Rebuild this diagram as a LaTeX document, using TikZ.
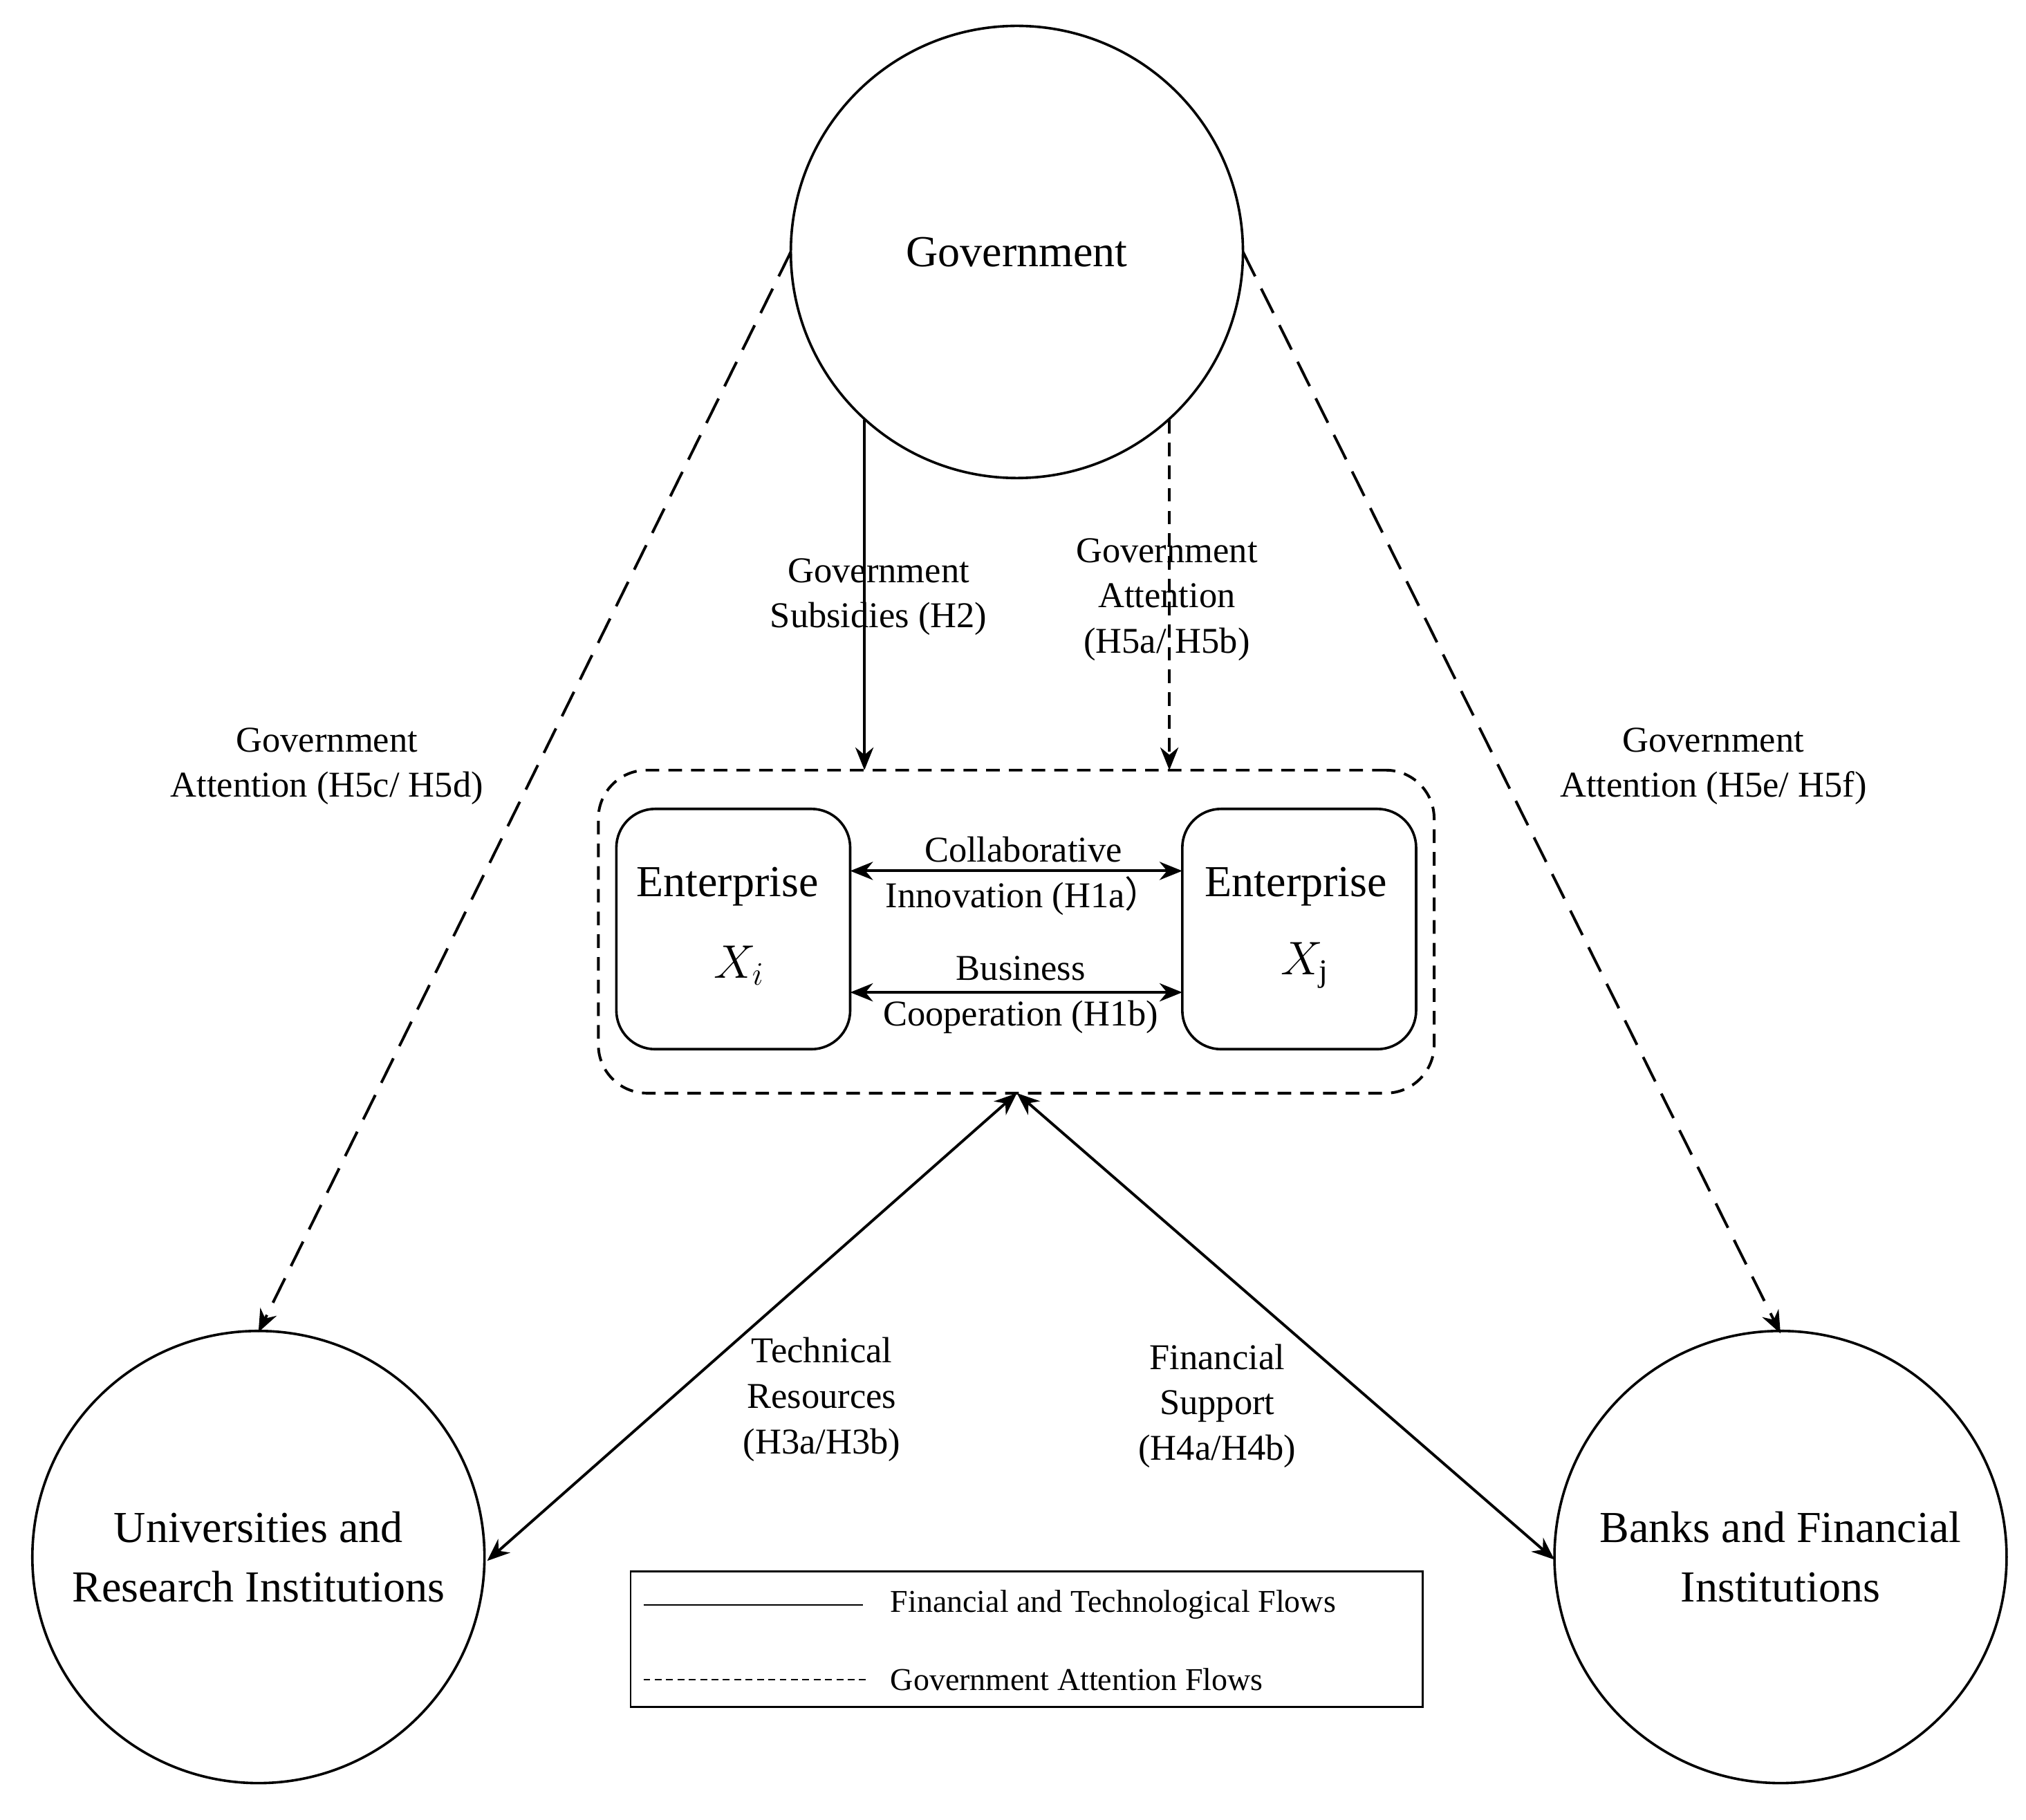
\documentclass[tikz,border=0pt]{standalone}
\usepackage{fontspec}
\setmainfont{Liberation Serif}
\newfontfamily\cjk{Noto Sans CJK SC}
\usetikzlibrary{arrows.meta}
\begin{document}
\begin{tikzpicture}[x=0.02cm,y=-0.02cm,
 ln/.style={line width=1.2pt},
 circ/.style={circle,draw,line width=1.1pt,minimum size=7cm,inner sep=0pt,align=center,font=\fontsize{19.5}{26}\selectfont},
 lab/.style={align=center,font=\fontsize{16}{20}\selectfont},
 ent/.style={draw,line width=1.1pt,rounded corners=0.6cm,minimum width=3.62cm,minimum height=3.72cm,align=center},
 arr/.style={ln,-{Stealth[length=10pt,width=8pt]}},
 darr/.style={ln,{Stealth[length=10pt,width=8pt]}-{Stealth[length=10pt,width=8pt]}},
 ldash/.style={dash pattern=on 12pt off 6pt},
 sdash/.style={dash pattern=on 6pt off 4pt}]
\useasboundingbox (0,0) rectangle (1568,1408);
\node[circ] (gov) at (787,195) {Government};
\node[circ] (uni) at (200,1205) {Universities and\\Research Institutions};
\node[circ] (bank) at (1378,1205) {Banks and Financial\\Institutions};
\node[draw,ln,sdash,rounded corners=0.75cm,minimum width=12.94cm,minimum height=5cm] (grp) at (786.5,721) {};
\node[ent] (xi) at (567.5,719) {};
\node[ent] (xj) at (1005.5,719) {};
\node[font=\fontsize{19.5}{26}\selectfont] at (563,686) {Enterprise};
\node[font=\fontsize{19.5}{26}\selectfont] at (1003,686) {Enterprise};
\node[font=\fontsize{20}{26}\selectfont] at (572,747) {$X_i$};
\node[font=\fontsize{20}{26}\selectfont] at (1010,747) {$X_{\mathrm{j}}$};
\coordinate (a1) at (658,674); \coordinate (a2) at (915,674);
\coordinate (b1) at (658,768); \coordinate (b2) at (915,768);
\draw[darr] (a1) -- (a2);
\draw[darr] (b1) -- (b2);
\node[lab] at (792,678) {Collaborative\\Innovation (H1a{\cjk ）}};
\node[lab] at (790,770) {Business\\Cooperation (H1b)};
\coordinate (s1) at (669,325); \coordinate (s2) at (669,596);
\coordinate (t1) at (905,325); \coordinate (t2) at (905,596);
\draw[arr] (s1) -- (s2);
\draw[arr,sdash] (t1) -- (t2);
\node[lab] at (680,462) {Government\\Subsidies (H2)};
\node[lab] at (903,464) {Government\\Attention\\(H5a/ H5b)};
\coordinate (gl) at (612,195); \coordinate (gr) at (962,195);
\coordinate (ut) at (200,1031); \coordinate (bt) at (1378,1032);
\draw[arr,ldash] (gl) -- (ut);
\draw[arr,ldash] (gr) -- (bt);
\node[lab] at (253,593) {Government\\Attention (H5c/ H5d)};
\node[lab] at (1326,593) {Government\\Attention (H5e/ H5f)};
\coordinate (gb) at (787,846);
\coordinate (ue) at (377,1208); \coordinate (be) at (1203,1207);
\draw[darr] (gb) -- (ue);
\draw[darr] (gb) -- (be);
\node[lab] at (636,1083) {Technical\\Resources\\(H3a/H3b)};
\node[lab] at (942,1088) {Financial\\Support\\(H4a/H4b)};
\node[draw,line width=0.9pt,minimum width=12.26cm,minimum height=2.1cm] (leg) at (794.5,1268.5) {};
\coordinate (l1) at (498,1242); \coordinate (l2) at (668,1242);
\coordinate (m1) at (498,1300); \coordinate (m2) at (672,1300);
\draw[line width=0.5pt] (l1) -- (l2);
\draw[line width=0.5pt,dash pattern=on 3pt off 2pt] (m1) -- (m2);
\node[anchor=west,font=\fontsize{14}{17}\selectfont] at (683,1242) {Financial and Technological Flows};
\node[anchor=west,font=\fontsize{14}{17}\selectfont] at (683,1300) {Government Attention Flows};
\end{tikzpicture}
\end{document}
